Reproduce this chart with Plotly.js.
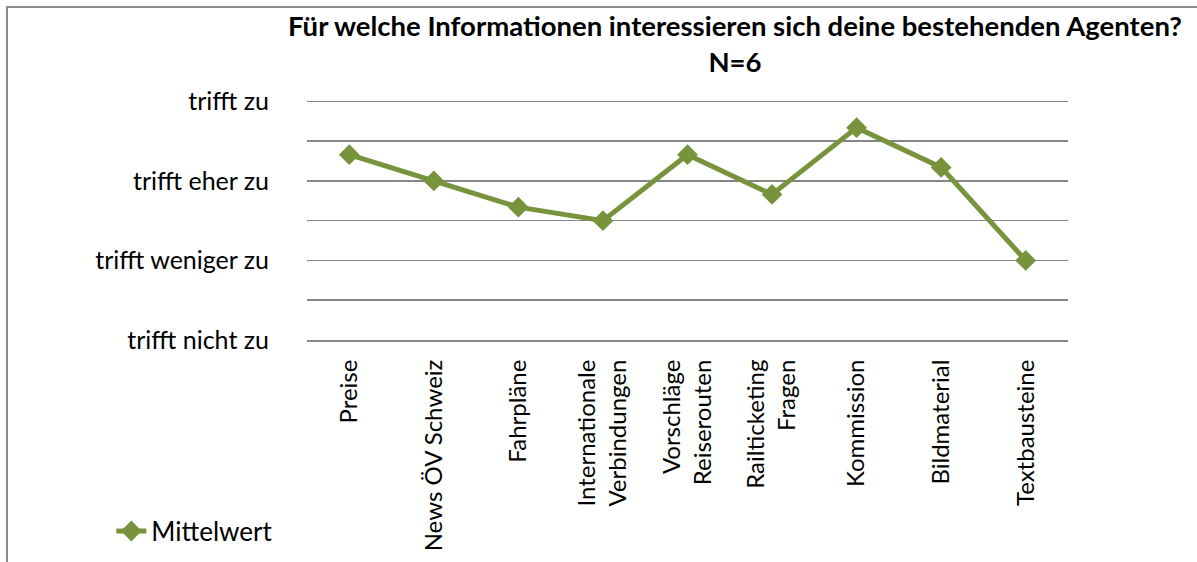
<!DOCTYPE html>
<html>
<head>
<meta charset="utf-8">
<script src="https://cdn.plot.ly/plotly-3.0.1.min.js"></script>
<style>
html,body{margin:0;padding:0;background:#fff;}
#wrap{position:relative;width:1197px;height:562px;overflow:hidden;}
#chart{width:1197px;height:562px;}
#frame{position:absolute;left:6px;top:6px;width:1197px;height:562px;border-left:2px solid #8c8c8c;border-top:2px solid #8c8c8c;pointer-events:none;}
</style>
</head>
<body>
<div id="wrap"><div id="chart"></div><div id="frame"></div></div>
<script>
const categories = ["Preise", "News ÖV Schweiz", "Fahrpläne", "Internationale<br>Verbindungen", "Vorschläge<br>Reiserouten", "Railticketing<br>Fragen", "Kommission", "Bildmaterial", "Textbausteine"];
const mittelwert = [3.33, 3.0, 2.67, 2.5, 3.33, 2.83, 3.67, 3.17, 2.0];
const yTickVals = [1, 1.5, 2, 2.5, 3, 3.5, 4];
const yTickText = ["trifft nicht zu", "", "trifft weniger zu", "", "trifft eher zu", "", "trifft zu"];
const seriesName = "Mittelwert";
const titleText = "<b>Für welche Informationen interessieren sich deine bestehenden Agenten?<br>N=6</b>";

const font = "Lato, 'Open Sans', sans-serif";
const trace = {
  x: categories.map((c, i) => i),
  y: mittelwert,
  type: "scatter",
  mode: "lines+markers",
  name: seriesName,
  line: {color: "#77933C", width: 5},
  marker: {symbol: "diamond", size: 16, color: "#77933C"}
};
const layout = {
  width: 1197, height: 562,
  margin: {l: 307, r: 129, t: 99, b: 222, autoexpand: false},
  paper_bgcolor: "#fff", plot_bgcolor: "#fff",
  font: {family: font, color: "#000", size: 24},
  title: {text: titleText, x: 0.614, xanchor: "center", y: 0.936, yanchor: "middle",
          font: {family: font, size: 27.5, color: "#000"}},
  xaxis: {
    range: [-0.5, 8.5], tickvals: categories.map((c, i) => i), ticktext: categories,
    tickangle: -90, showgrid: false, zeroline: false,
    showline: true, linecolor: "#868686", linewidth: 2, ticks: "",
    ticklabelstandoff: 8, automargin: false,
    tickfont: {family: font, size: 24, color: "#000"}, fixedrange: true
  },
  yaxis: {
    range: [1, 4.03], tickvals: yTickVals, ticktext: yTickText,
    showgrid: true, gridcolor: "#868686", gridwidth: 1.5, zeroline: false,
    showline: false, ticks: "", ticklabelstandoff: 37, automargin: false,
    tickfont: {family: font, size: 25, color: "#000"}, fixedrange: true
  },
  showlegend: true,
  legend: {xref: "container", yref: "container", x: 0.093, xanchor: "left", y: 0.055, yanchor: "middle",
           font: {family: font, size: 26, color: "#000"}, bgcolor: "rgba(0,0,0,0)"}
};
Plotly.newPlot("chart", [trace], layout, {displayModeBar: false, staticPlot: true});
</script>
</body>
</html>
